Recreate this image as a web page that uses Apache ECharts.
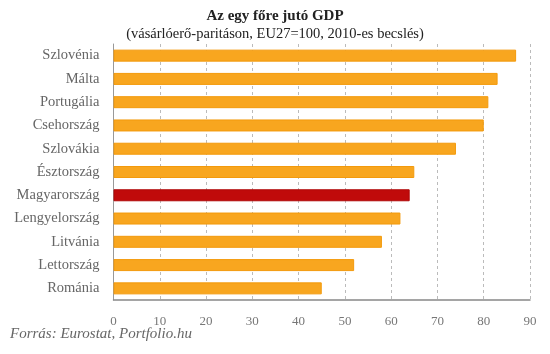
<!DOCTYPE html>
<html><head><meta charset="utf-8">
<script src="https://cdn.jsdelivr.net/npm/echarts@6/dist/echarts.min.js"></script>
<style>html,body{margin:0;padding:0;background:#fff}#c{width:550px;height:354px}</style>
</head><body><div id="c"></div>
<script>
const categories = ["Szlovénia","Málta","Portugália","Csehország","Szlovákia","Észtország","Magyarország","Lengyelország","Litvánia","Lettország","Románia"];
const values = [87,83,81,80,74,65,64,62,58,52,45];
const highlight = "Magyarország";
const xTicks = [0,10,20,30,40,50,60,70,80,90];
const titleText = "Az egy főre jutó GDP";
const subtitleText = "(vásárlóerő-paritáson, EU27=100, 2010-es becslés)";
const sourceText = "Forrás: Eurostat, Portfolio.hu";

const FONT = "Liberation Serif";
const chart = echarts.init(document.getElementById('c'), null, {renderer:'canvas'});
chart.setOption({
  backgroundColor:'#ffffff',
  animation:false,
  title:{
    text:titleText, subtext:subtitleText, left:'center', top:4, itemGap:3,
    textStyle:{fontFamily:FONT, fontSize:15, fontWeight:'bold', color:'#222'},
    subtextStyle:{fontFamily:FONT, fontSize:14.5, color:'#222'}
  },
  grid:{left:113.5, right:20, top:44, bottom:54, containLabel:false},
  xAxis:{
    type:'value', min:0, max:90, interval:10,
    axisLine:{show:true, lineStyle:{color:'#888', width:1.5}},
    axisTick:{show:false},
    axisLabel:{fontFamily:FONT, fontSize:13, color:'#777', margin:15,
      formatter:v=> xTicks.includes(v)? String(v):''},
    splitLine:{show:true, lineStyle:{color:'#bbb', type:[3,3], width:1}}
  },
  yAxis:{
    type:'category', data:categories, inverse:true,
    axisLine:{show:true, lineStyle:{color:'#999', width:1}},
    axisTick:{show:false},
    axisLabel:{fontFamily:FONT, fontSize:14.5, color:'#666', margin:14}
  },
  series:[{
    type:'bar', barWidth:12,
    data:values.map((v,i)=>({value:v, itemStyle:{
      color: categories[i]===highlight ? '#C00A0A' : '#F8A61F',
      borderColor: categories[i]===highlight ? '#B00808' : '#F39A0C', borderWidth:1}}))
  }],
  graphic:[{type:'text', left:10, top:327, style:{text:sourceText, font:'italic 15px "Liberation Serif"', fill:'#666'}}]
});
</script></body></html>
